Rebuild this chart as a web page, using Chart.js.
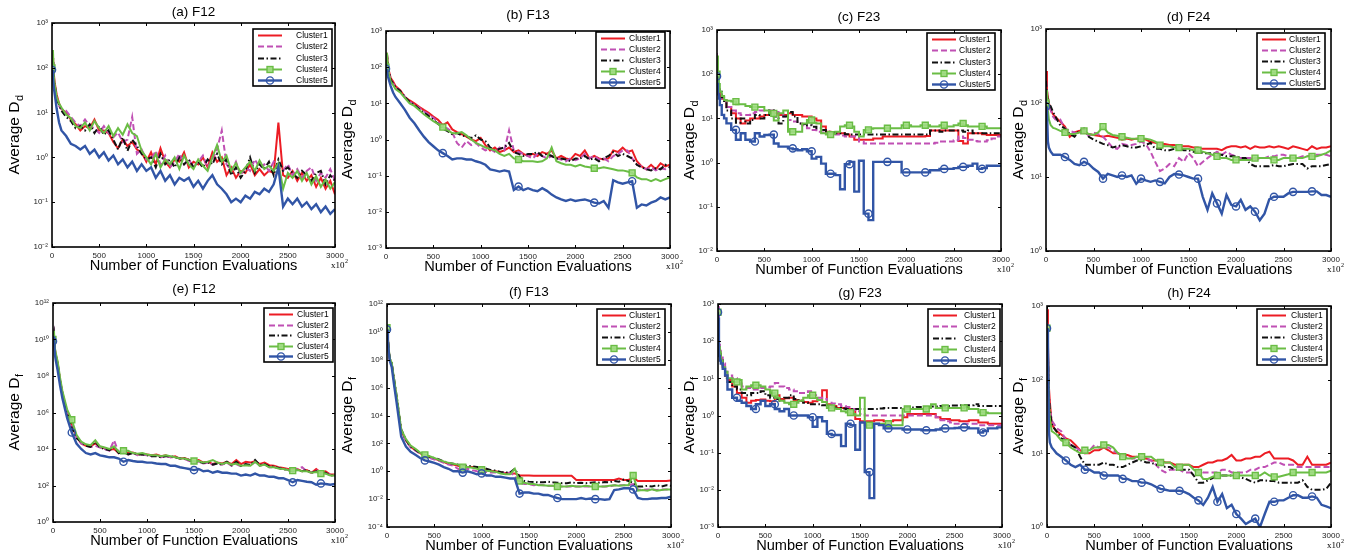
<!DOCTYPE html>
<html><head><meta charset="utf-8">
<script src="https://cdn.jsdelivr.net/npm/chart.js@4.4.0/dist/chart.umd.min.js"></script>
<style>
html,body{margin:0;padding:0;background:#fff;}
body{width:1352px;height:558px;position:relative;overflow:hidden;}
canvas{position:absolute;}
</style></head><body>
<script>
// ---------- shared x positions (function evaluations, x10^2) ----------
const X = [0,10,20,30,50,75,100,
150,200,250,300,350,400,450,500,
550,600,650,700,750,800,850,900,950,1000,
1050,1100,1150,1200,1250,1300,1350,1400,1450,1500,
1550,1600,1650,1700,1750,1800,1850,1900,1950,2000,
2050,2100,2150,2200,2250,2300,2350,2400,2450,2500,
2550,2600,2650,2700,2750,2800,2850,2900,2950,3000];
const X_TICK_LABELS = ['0','500','1000','1500','2000','2500','3000'];
const NAMES = ['Cluster1','Cluster2','Cluster3','Cluster4','Cluster5'];

// ---------- (a) F12, Average Dd ----------
const A_C1 = [100,180,70,45,25,16,12,
10,7,5.5,4,5,4.5,7,4,
4,3.5,2.2,1.6,2.5,1.8,2.2,1.5,1.3,0.8,
1.3,0.7,1.6,0.8,0.6,0.9,0.8,1.3,0.6,0.8,
0.7,1.0,0.6,1.3,0.8,1.0,0.4,0.6,0.35,0.5,
0.45,0.7,0.4,0.55,0.4,0.5,0.45,6.0,0.4,0.35,
0.5,0.3,0.45,0.3,0.4,0.22,0.35,0.2,0.3,0.15];
const A_C2 = [100,150,50,35,20,14,12,
11,8,6,5,7,5,4.5,3.5,
5,3.5,2.8,3.6,2.2,2.5,8,1.2,1.5,0.9,
0.9,1.4,0.7,1.1,0.6,0.8,1.2,0.7,0.9,0.6,
0.8,1.1,0.6,0.9,1.5,4.0,0.7,0.5,0.8,0.4,
0.6,0.5,0.9,0.6,0.7,0.5,0.8,0.6,0.5,0.7,
0.4,0.55,0.35,0.5,0.6,0.3,0.45,0.35,0.55,0.3];
const A_C3 = [100,220,55,40,20,15,11,
8,6.5,4.5,5,4,5.5,3.5,5,
3.2,4,2.5,1.5,2.8,1.4,2.5,1.8,1.2,0.9,
1.0,0.6,1.2,0.7,0.9,0.6,1.0,0.7,0.9,0.6,
0.8,0.6,0.9,0.7,1.2,0.7,0.9,0.4,0.6,0.35,
0.5,1.0,0.45,0.7,0.55,0.8,0.4,0.9,0.5,0.6,
0.45,0.35,0.5,0.4,0.3,0.45,0.5,0.25,0.4,0.3];
const A_C4 = [100,250,60,40,22,16,13,
9,7.5,5,4.5,6,4,6.5,4.5,
3.5,5,3,4.5,3.2,5.5,3.5,3,1.4,1.0,
0.7,1.2,0.6,0.9,0.7,1.0,0.55,1.1,0.7,0.55,
0.9,0.65,0.5,1.0,1.9,0.8,1.1,0.5,0.75,0.45,
0.6,0.8,0.5,0.85,0.55,0.65,0.5,0.75,0.2,0.45,
0.35,0.5,0.3,0.45,0.25,0.38,0.22,0.32,0.2,0.28];
const A_C5 = [90,60,35,25,12,6,4,
3,2,1.8,1.5,1.8,1.2,1.5,1.0,
1.3,0.85,1.1,0.7,0.9,0.6,0.8,0.5,0.7,0.5,
0.6,0.35,0.5,0.3,0.4,0.25,0.35,0.3,0.35,0.22,
0.3,0.2,0.3,0.4,0.25,0.2,0.15,0.1,0.12,0.1,
0.14,0.12,0.17,0.15,0.2,0.17,0.25,0.6,0.08,0.12,
0.09,0.12,0.08,0.1,0.07,0.09,0.06,0.08,0.055,0.07];

// ---------- (b) F13, Average Dd ----------
const B_C1 = [100,250,120,80,50,40,30,
23,15,12,10,8,6.6,5.5,4.3,
3.5,2.5,3.0,1.9,1.6,1.4,1.2,1.0,0.9,1.1,
0.7,0.5,0.6,0.45,0.5,0.6,0.45,0.5,0.4,0.35,
0.4,0.35,0.45,0.4,0.5,0.3,0.35,0.3,0.28,0.4,
0.35,0.5,0.3,0.35,0.3,0.28,0.3,0.5,0.45,0.6,
0.45,0.5,0.25,0.18,0.15,0.2,0.15,0.22,0.18,0.2];
const B_C2 = [100,200,110,70,45,35,28,
22,15,11,9,7.5,6,5,4,
3,2.3,2,1.6,0.8,0.6,0.9,0.7,0.8,0.6,
0.5,0.55,0.45,0.6,0.5,1.8,0.5,0.45,0.4,0.35,
0.3,0.4,0.35,0.3,0.35,0.3,0.28,0.25,0.3,0.27,
0.3,0.4,0.3,0.35,0.28,0.3,0.25,0.35,0.4,0.5,
0.5,0.3,0.2,0.18,0.15,0.17,0.14,0.16,0.15,0.17];
const B_C3 = [100,230,110,75,45,35,28,
22,15,11,9,7,5.5,4.5,3.5,
2.7,2.0,1.7,1.4,1.5,1.3,1.2,1.1,1.3,1.0,
0.9,0.6,0.5,0.55,0.6,0.8,0.45,0.4,0.35,0.4,
0.4,0.45,0.35,0.4,0.35,0.3,0.3,0.28,0.25,0.3,
0.3,0.35,0.28,0.3,0.25,0.3,0.35,0.45,0.35,0.4,
0.35,0.3,0.2,0.17,0.15,0.14,0.16,0.15,0.2,0.17];
const B_C4 = [100,250,100,65,40,32,25,
20,14,10,8.5,6.5,5,4,3.2,
2.7,2.2,1.8,1.5,1.5,1.6,1.3,1.0,0.8,0.7,
0.6,0.55,0.5,0.4,0.35,0.4,0.3,0.28,0.25,0.25,
0.25,0.24,0.25,0.3,0.6,0.25,0.22,0.2,0.2,0.18,
0.2,0.18,0.17,0.16,0.16,0.17,0.16,0.15,0.14,0.14,
0.13,0.12,0.09,0.08,0.08,0.07,0.08,0.07,0.08,0.09];
const B_C5 = [90,80,55,45,30,20,15,
10,6.6,4,2.8,1.8,1.2,0.85,0.65,
0.5,0.42,0.35,0.28,0.3,0.3,0.28,0.28,0.25,0.23,
0.2,0.15,0.14,0.13,0.14,0.13,0.04,0.05,0.04,0.045,
0.04,0.037,0.045,0.038,0.03,0.025,0.022,0.02,0.022,0.02,
0.021,0.022,0.02,0.018,0.017,0.02,0.013,0.075,0.065,0.06,
0.065,0.07,0.013,0.016,0.015,0.018,0.02,0.025,0.022,0.025];

// ---------- (c) F23, Average Dd ----------
const C_C1 = [100,70,50,40,30,28,26,
18,13,10,7.7,9,10,10,11,
12,14,13,12,12,13,12,12,11,11,
10,9,6.6,5,4.8,4.6,4.6,4.3,3.9,3.3,
3.3,3.3,3.3,3.5,3.5,3.9,3.9,3.9,3.9,3.9,
3.9,3.9,3.9,3.9,4.0,5.3,5.3,5.3,5.3,5.3,
5.3,3.1,2.7,4.6,4.6,4.6,4.4,4.2,4.2,4.2];
const C_C2 = [300,100,60,45,35,28,25,
18,15,13,12,12,13,14,15,
15,15,14,13,11,9.2,8.5,7.7,7,6,
5.5,5,4.8,4.6,4.4,4.3,4.1,3.9,3.9,3.9,
3.0,2.7,2.7,2.7,2.7,2.7,2.7,2.7,2.7,2.7,
2.7,2.7,2.7,2.7,2.7,2.7,2.8,3.0,3.0,3.0,
3.2,3.9,3.6,3.3,3.1,3.0,3.0,3.2,3.5,3.9];
const C_C3 = [100,80,60,45,40,30,22,
15,10,8,10,7.7,9.2,12,10,
12,15,11,7.7,11,14,11,7.7,7.5,7,
6.5,6,5.5,5,4.8,4.6,4.6,4.4,4.3,4.3,
4.3,4.3,4.3,4.3,4.3,4.3,4.3,4.3,4.3,4.3,
4.3,4.3,4.3,4.3,4.3,5.3,5.3,5.0,5.3,5.3,
5.3,5.3,5.0,5.3,4.6,4.6,4.6,4.6,4.6,4.6];
const C_C4 = [100,250,90,60,40,32,26,
25,24,21,21,19,18,18,18,
15,13,9,13,15,5,5,5,7.7,9.2,
8,7.7,4.6,4.3,4.5,5,6.6,7,6.6,5,
3.9,5.5,5.8,6,6,6,6,6,6,7,
7,6.6,6.6,7,7,6.6,6.6,7,6.6,6.6,
7,7.7,7,6.6,6.6,6.6,6.6,6.0,6.0,6.0];
const C_C5 = [90,60,35,28,20,12,10,
7.7,5.5,3.3,4.6,3.3,3.0,4.6,3.9,
4.2,4.3,2.7,2.3,2.3,2.1,2.0,1.9,2.0,1.8,
1.23,1.35,0.95,0.56,0.56,0.52,0.25,0.92,1.04,0.22,
1.1,0.07,0.05,1.04,1.04,1.04,1.04,1.04,1.04,0.6,
0.6,0.6,0.6,0.6,0.6,0.67,0.67,0.72,0.72,0.72,
0.75,0.8,0.8,0.85,0.95,0.72,0.75,0.85,0.85,0.85];

// ---------- (d) F24, Average Dd ----------
const D_C1 = [270,150,120,100,80,70,65,
56,48,35,40,42,40,38,37,
36,35,36,35,34,32,33,32,33,33,
32,30,29,28,28,27,27,26,26,26,
25,25,24,24,24,24,23,25,26,26,
25,26,24,26,25,25,26,25,26,25,
24,26,25,24,23,26,24,25,25,26];
const D_C2 = [200,150,100,90,80,65,60,
60,45,42,40,38,42,36,40,
38,35,30,25,24,28,27,27,28,30,
28,22,16,12,13,15,14,18,16,21,
18,14,16,18,20,22,20,22,20,19,
18,18,18,17,18,18,19,19,20,20,
19,18,18,19,19,20,20,20,20,19];
const D_C3 = [200,130,110,100,90,75,65,
50,45,38,35,42,45,35,32,
30,28,27,25,26,27,26,25,25,26,
27,29,24,24,23,23,24,24,23,23,
22,22,21,21,21,20,20,19,19,19,
18,18,15,14,14,14,14,14.5,14,14,
14.5,15,15,15,13,14,14,14,14.5,15];
const D_C4 = [100,150,80,60,50,46,45,
42,40,38,38,40,42,38,37,
40,48,40,37,36,35,34,33,33,33,
33,32,30,27,26,26,25,25,24,24,
23,23,22,21,20,19,18,18,17,17,
17,17,17,18,18,18,18,17,17,18,
18,18,18,18,19,19,19,20,21,23];
const D_C5 = [90,80,30,25,22,20,20,
20,18.6,17,15,14.4,16,15,13,
11.7,9.5,11,10.5,10,10.5,10,10.5,8.1,9.5,
9,8.6,9,8.6,8.2,10,11,10.8,10.5,10,
9.5,9.5,5.4,3.6,6,4.4,3.2,5.7,4.2,4,
4.9,3.6,4.0,3.4,2.6,3.2,5.0,5.4,5.4,5.4,
6,6.3,6.3,6.3,6.3,6.4,6.4,5.7,5.7,5.4];

// ---------- (e) F12, Average Df ----------
const E_C1 = [1e10,2e10,3e9,1.5e9,5e8,6e7,1.2e7,
1e6,2e5,5e4,2e4,1.5e4,1.4e4,2e4,1.3e4,
1.1e4,9e3,1e4,6e3,7e3,6e3,6.5e3,5e3,5.5e3,5e3,
4.5e3,5e3,4e3,4.5e3,3.5e3,4e3,3e3,3.2e3,2.5e3,2.2e3,
2.5e3,1.8e3,2e3,1.5e3,1.8e3,1.6e3,2e3,1.5e3,2.5e3,1.5e3,
2e3,1.8e3,2.2e3,1.5e3,1.8e3,1.3e3,1.2e3,1e3,9e2,8e2,
7e2,8e2,6e2,7e2,5e2,8e2,5e2,6e2,4e2,4e2];
const E_C2 = [1e10,2e10,2.5e9,1.2e9,4e8,5e7,1e7,
8e5,2e5,4e4,2e4,1.5e4,1.3e4,1.5e4,1.2e4,
1e4,8e3,3e4,6e3,6.5e3,5e3,6e3,4.5e3,5e3,4.5e3,
4e3,4.5e3,3.5e3,4e3,3.5e3,3.5e3,3e3,2.8e3,2.2e3,2e3,
2e3,1.6e3,1.8e3,1.4e3,1.6e3,1.4e3,1.8e3,1.2e3,1.5e3,1.1e3,
1.4e3,1.2e3,2e3,1.2e3,1.5e3,1e3,1e3,9e2,8e2,7e2,
6e2,8e2,1e3,6e2,5e2,7e2,5e2,4.5e2,4e2,3.5e2];
const E_C3 = [1e10,2e10,2.5e9,1.3e9,4.5e8,5.5e7,1.1e7,
9e5,1.5e5,4e4,2.5e4,1.5e4,1.3e4,2.5e4,1.2e4,
1e4,8.5e3,1.2e4,6e3,7e3,5e3,6e3,5e3,5e3,4.5e3,
4e3,4e3,3.5e3,4e3,4e3,3.5e3,3e3,3e3,2.5e3,2e3,
2e3,1.7e3,1.8e3,1.4e3,1.6e3,1.4e3,2e3,1.3e3,2e3,1.2e3,
1.5e3,1.3e3,2.5e3,1.3e3,1.5e3,1.1e3,1.1e3,9e2,8e2,7e2,
6e2,7e2,6e2,7e2,5e2,6e2,4.5e2,5e2,3.5e2,3.5e2];
const E_C4 = [1e10,3e10,3.5e9,1.8e9,6e8,8e7,1.5e7,
1.5e6,4e5,6e4,2.5e4,1.8e4,1.6e4,3e4,1.4e4,
1.2e4,1e4,1.4e4,7e3,8e3,8e3,6e3,5.5e3,6e3,5e3,
4.5e3,4.5e3,4e3,4.5e3,4e3,3.5e3,3e3,3e3,2.5e3,2.2e3,
2.2e3,1.8e3,2e3,2.5e3,1.8e3,1.5e3,1.8e3,1.4e3,1.6e3,1.2e3,
1.3e3,1.2e3,2e3,1.2e3,1.4e3,1e3,1e3,8.5e2,8e2,7e2,
6.5e2,7e2,6e2,6e2,5e2,5.5e2,4.5e2,4.5e2,3.5e2,3.5e2];
const E_C5 = [8e9,1.5e10,1.5e9,7e8,2e8,3e7,6e6,
5e5,8e4,2e4,1e4,6e3,5e3,6e3,4.5e3,
4e3,3.5e3,3.5e3,3e3,2e3,2.5e3,2.2e3,2e3,2e3,1.8e3,
1.8e3,1.6e3,1.5e3,1.5e3,1.2e3,1.2e3,1e3,9e2,8e2,7e2,
8e2,6e2,6.5e2,5e2,6e2,5e2,5e2,4.5e2,4.5e2,3.5e2,
4e2,3.5e2,4.5e2,3.5e2,3.5e2,3e2,3e2,2.5e2,2.5e2,2e2,
1.5e2,2e2,1.8e2,1.6e2,1.5e2,1.1e2,1.3e2,1.2e2,1.1e2,1.2e2];

// ---------- (f) F13, Average Df ----------
const F_C1 = [1.5e10,3e9,4e8,1e8,5e7,3e6,2e5,
800,160,56,33,20,13,10,8,
6,4.5,3.5,3,2.5,2,2,2,1.8,1.5,
1.3,1.1,1,0.8,0.75,0.7,0.7,0.5,0.5,0.5,
0.48,0.48,0.48,0.48,0.48,0.48,0.48,0.48,0.48,0.24,
0.24,0.24,0.24,0.24,0.24,0.24,0.24,0.24,0.3,0.24,
0.24,0.35,0.2,0.2,0.2,0.2,0.2,0.2,0.2,0.22];
const F_C2 = [1.5e10,2e9,3e8,8e7,4e7,2.5e6,1.8e5,
700,150,50,30,18,12,9,7,
5.5,4,3,2.5,1.5,1.2,1.5,1.2,1.0,0.9,
0.9,0.8,0.8,0.8,0.7,0.8,0.5,0.15,0.12,0.12,
0.1,0.11,0.1,0.09,0.09,0.08,0.08,0.08,0.08,0.08,
0.08,0.08,0.08,0.08,0.08,0.08,0.08,0.1,0.1,0.1,
0.1,0.12,0.05,0.045,0.05,0.05,0.045,0.05,0.05,0.05];
const F_C3 = [1.5e10,3e9,5e8,1.2e8,6e7,4e6,3e5,
1000,180,60,35,20,14,11,9,
7,5,4,3.5,3,2.5,2.5,2.2,2,1.8,
1.5,1.2,1.1,0.9,0.8,0.8,1.5,0.4,0.2,0.18,
0.17,0.16,0.16,0.18,0.16,0.15,0.14,0.14,0.16,0.14,
0.15,0.14,0.15,0.16,0.15,0.17,0.16,0.2,0.18,0.25,
0.2,0.15,0.08,0.08,0.09,0.08,0.1,0.08,0.1,0.09];
const F_C4 = [2e10,3e9,5e8,1.2e8,6e7,4e6,3e5,
1000,200,70,40,22,15,12,9,
6.5,5,4,3.5,3,2,2,1.8,1.5,1.3,
1.1,1.0,0.9,0.7,0.6,0.6,1.5,0.2,0.15,0.12,
0.12,0.1,0.1,0.09,0.09,0.08,0.08,0.08,0.09,0.08,
0.08,0.09,0.08,0.08,0.08,0.08,0.09,0.1,0.09,0.1,
0.1,0.5,0.04,0.045,0.04,0.05,0.04,0.045,0.05,0.05];
const F_C5 = [1.5e10,2e9,3e8,8e7,3e7,1.5e6,1e5,
300,60,25,15,9,6,5,4,
3,2,1.5,1.0,1.0,0.8,1.0,0.8,0.6,0.7,
0.5,0.5,0.4,0.4,0.35,0.3,0.3,0.025,0.03,0.03,
0.025,0.025,0.02,0.02,0.015,0.012,0.01,0.01,0.01,0.01,
0.012,0.01,0.011,0.01,0.01,0.009,0.01,0.045,0.05,0.06,
0.06,0.05,0.012,0.01,0.01,0.011,0.011,0.012,0.012,0.015];

// ---------- (g) F23, Average Df ----------
const G_C1 = [500,150,60,40,30,20,12,
9,6,4,3,2.2,2.5,2.6,2.7,
2.5,2.4,3.5,2.8,2.9,3,2.6,2.5,2.3,2.2,
2.4,2.6,4.8,2,1.8,1.6,1.6,1.5,1.5,0.8,
0.7,0.7,0.7,0.75,0.75,0.7,0.7,0.75,0.75,0.9,
1.1,1.1,1.1,1.1,1.1,1.1,0.9,0.8,0.8,0.75,
0.75,0.7,0.7,0.75,0.75,0.65,0.65,0.6,0.6,0.6];
const G_C2 = [700,1000,80,55,40,25,15,
12,10,8,6,5.5,5,5,5.5,
5.8,6,7.5,6,5.5,5,4.5,4,4,4.5,
3.5,3,2.8,2.2,2.1,2.0,1.8,1.7,1.5,1.3,
1.1,1.0,1.0,1.0,1.0,1.0,1.0,1.0,1.0,1.0,
1.0,1.0,1.0,1.0,1.0,1.0,0.9,0.75,0.7,0.65,
0.6,0.6,0.6,0.6,0.6,0.55,0.55,0.55,0.55,0.55];
const G_C3 = [500,120,60,45,30,18,10,
8,6,5,4,3.5,4,4,4.5,
3.5,3,2.8,2.5,3,3.5,2.8,2.5,2.2,2,
2,2,1.9,1.7,1.65,1.6,1.55,1.5,1.5,1.5,
1.5,1.5,1.5,1.5,1.55,1.6,1.6,1.6,1.6,1.6,
1.6,1.65,1.7,1.7,1.7,1.75,1.75,1.8,1.8,1.85,
1.85,1.9,1.9,1.9,2.0,1.8,1.8,1.8,1.8,1.8];
const G_C4 = [600,200,70,50,30,20,15,
10,8,9,5,6,6.5,6.5,6,
5,4,3,2.5,2.2,2,2.2,2.5,3,3.5,
3,2.6,2.3,1.6,1.55,1.5,1.3,1.2,1.1,1.0,
3,0.55,0.6,0.6,0.6,0.6,0.55,0.55,0.55,1.5,
1.5,1.5,1.5,1.5,1.6,2.0,1.6,1.6,1.6,1.6,
1.6,1.6,1.7,1.5,1.5,1.2,1.2,1.15,1.15,1.15];
const G_C5 = [600,400,40,30,25,18,12,
5,3,2.5,2.2,1.8,1.5,2.0,2.5,
1.8,2.0,1.5,1.3,1.5,1.0,1.0,1.0,1.0,0.9,
0.5,0.9,0.7,0.32,0.3,0.3,0.15,0.6,0.55,0.12,
0.65,0.03,0.006,0.6,0.55,0.45,0.45,0.45,0.45,0.42,
0.42,0.42,0.42,0.4,0.4,0.4,0.42,0.45,0.45,0.45,
0.46,0.48,0.48,0.45,0.45,0.35,0.38,0.45,0.45,0.48];

// ---------- (h) F24, Average Df ----------
const H_C1 = [900,300,80,50,25,22,20,
18,16,15,13,11,10,10,11,
11,12,11,10,10,9.5,9.5,9,9,8.5,
8.5,8,8,8,7.5,7.5,7,7,7,7,
6.5,6.5,7,7.5,7.5,8,8,8.5,9.5,8,
8,8.5,8.5,9,9,10,10.5,8.5,8.5,8.5,
8.5,8,7,7,9,7,7,7,7,7.5];
const H_C2 = [600,250,60,40,28,25,22,
20,15,13,12,11,10,11,13,
12,12,12,11,10,9,9,8.5,8.5,8.5,
8.5,8,7,6,5.5,6,6,6,5.5,5.5,
5.5,6,5.5,5.5,5.5,5.5,6,6,5.5,5.5,
5.5,5.5,6,6,6.5,6.5,7,7.5,7.5,7,
7,7,6.5,6.5,6.5,6.5,6.5,6.5,6.5,6.5];
const H_C3 = [500,200,60,40,25,22,20,
16,15,13,12,9,7,7,7,
7,7.5,7,7,6.5,6.5,7,7.5,8,8,
7.5,7.5,7,7,6.5,6.5,6,6,6,6,
5,4,4,4.3,4.6,5,5,5,5,5,
4.7,4.5,4.2,4,4.3,4.3,4.2,4.2,4,4,
4,4,4,4.3,3.5,3.2,3.2,3.2,3.3,4];
const H_C4 = [500,250,50,30,20,19,18,
15,14,12,11,10,11,11,12,
12,13,13,12,10,9,8.5,8.5,9,9,
9,9,8,7.5,7.5,7.5,6.5,6.5,7,7,
6,5.5,4.5,4.5,4.8,5,5,5,5,5,
5,5,5,5,5,5.5,5,4.8,4.8,5,
5.2,5.5,5.5,5.5,5.5,5.5,5.5,5.5,5.5,5.8];
const H_C5 = [500,350,20,14,12,11,10,
9,8,7,6.5,7,6,6,5.5,
5.5,5,5,5,5,4.5,4.5,4.2,4.2,4,
4,3.8,3.5,3.3,3.2,3.1,3.1,3.1,3.0,2.8,
2.5,2.3,2.0,2.5,3.5,2.2,2.8,1.8,2.0,1.5,
1.3,1.1,1.2,1.3,1.0,1.5,2.2,2.2,2.3,2.3,
2.5,2.7,2.7,2.5,2.5,2.6,2.5,2.0,1.9,1.8];

// ---------- y tick exponents (labels 10^n) ----------
const YT_A = [-2,-1,0,1,2,3];
const YT_B = [-3,-2,-1,0,1,2,3];
const YT_C = [-2,-1,0,1,2,3];
const YT_D = [0,1,2,3];
const YT_E = [0,2,4,6,8,10,12];
const YT_F = [-4,-2,0,2,4,6,8,10,12];
const YT_G = [-3,-2,-1,0,1,2,3];
const YT_H = [0,1,2,3];

// ---------- marker x positions ----------
const MK_A = [0];
const MK_B = [0,600,1400,2200,2600];
const MK_C = [0,200,400,600,800,1000,1200,1400,1600,1800,2000,2200,2400,2600,2800];
const MK_D = MK_C;
const MK_E = [0,200,750,1500,2550,2850];
const MK_F = [0,400,800,1000,1400,1800,2200,2600];
const MK_G = MK_C;
const MK_H = MK_C;

// ---------- styles ----------
const FONT = '"Liberation Sans", Arial, Helvetica, sans-serif';
const STYLES = [
  {color:'#ec1c24', width:2.0, dash:[]},
  {color:'#c050b4', width:2.0, dash:[6,3]},
  {color:'#111111', width:2.0, dash:[6,2.5,1.5,2.5]},
  {color:'#6abd45', width:2.0, dash:[], marker:'rect', r:4.2},
  {color:'#3155a6', width:2.4, dash:[], marker:'circle', r:3.6}
];
const SUP = {'-':'\u207B','0':'\u2070','1':'\u00B9','2':'\u00B2','3':'\u00B3','4':'\u2074','5':'\u2075','6':'\u2076','7':'\u2077','8':'\u2078','9':'\u2079'};
const sup = n => String(n).split('').map(c=>SUP[c]).join('');

const PANELS = [
  {title:'(a) F12', sub:'d', data:[A_C1,A_C2,A_C3,A_C4,A_C5], yt:YT_A, mk:MK_A, area:[52,23,335,247], titleY:12, ylabX:15, legend:[253,29,332,86], stepped:false},
  {title:'(b) F13', sub:'d', data:[B_C1,B_C2,B_C3,B_C4,B_C5], yt:YT_B, mk:MK_B, area:[386,31,670,248], titleY:15, ylabX:348, legend:[596,32,665,88], stepped:false},
  {title:'(c) F23', sub:'d', data:[C_C1,C_C2,C_C3,C_C4,C_C5], yt:YT_C, mk:MK_C, area:[717,30,1001,251], titleY:17, ylabX:690, legend:[927,33,995,90], stepped:true},
  {title:'(d) F24', sub:'d', data:[D_C1,D_C2,D_C3,D_C4,D_C5], yt:YT_D, mk:MK_D, area:[1046,29,1331,251], titleY:17, ylabX:1019, legend:[1257,33,1325,89], stepped:false},
  {title:'(e) F12', sub:'f', data:[E_C1,E_C2,E_C3,E_C4,E_C5], yt:YT_E, mk:MK_E, area:[53,303,335,522], titleY:289, ylabX:15, legend:[264,308,333,362], stepped:false},
  {title:'(f) F13', sub:'f', data:[F_C1,F_C2,F_C3,F_C4,F_C5], yt:YT_F, mk:MK_F, area:[387,304,671,527], titleY:292, ylabX:348, legend:[597,309,665,365], stepped:false},
  {title:'(g) F23', sub:'f', data:[G_C1,G_C2,G_C3,G_C4,G_C5], yt:YT_G, mk:MK_G, area:[718,304,1002,527], titleY:293, ylabX:690, legend:[928,309,1000,366], stepped:true},
  {title:'(h) F24', sub:'f', data:[H_C1,H_C2,H_C3,H_C4,H_C5], yt:YT_H, mk:MK_H, area:[1047,306,1331,527], titleY:293, ylabX:1019, legend:[1257,309,1327,365], stepped:false}
];

const PAD_L = 52, PAD_T = 23, PAD_R = 18, PAD_B = 30;

function seg(ctx,x1,y1,x2,y2){ctx.beginPath();ctx.moveTo(x1,y1);ctx.lineTo(x2,y2);ctx.stroke();}

function drawMarker(ctx, s, x, y){
  ctx.save();
  ctx.strokeStyle = s.color; ctx.lineWidth = 1.4; ctx.setLineDash([]);
  if (s.marker === 'rect'){
    const h = s.r*Math.SQRT1_2;
    ctx.fillStyle = 'rgba(160,220,130,0.9)';
    ctx.fillRect(x-h,y-h,2*h,2*h);
    ctx.strokeRect(x-h,y-h,2*h,2*h);
  } else {
    ctx.beginPath(); ctx.arc(x,y,s.r,0,Math.PI*2); ctx.stroke();
  }
  ctx.restore();
}

const deco = {
  id:'deco',
  afterDatasetsDraw(chart){
    const p = chart.$panel, ctx = chart.ctx, a = chart.chartArea;
    const ox = chart.$ox, oy = chart.$oy;
    ctx.save();
    // frame
    ctx.strokeStyle = '#000'; ctx.lineWidth = 1.6; ctx.setLineDash([]);
    ctx.strokeRect(a.left, a.top, a.right-a.left, a.bottom-a.top);
    // inward tick marks
    ctx.lineWidth = 1;
    const xs = chart.scales.x, ys = chart.scales.y;
    xs.ticks.forEach(t=>{const px=Math.round(xs.getPixelForValue(t.value))+0.5; seg(ctx,px,a.bottom,px,a.bottom-3); seg(ctx,px,a.top,px,a.top+3);});
    ys.ticks.forEach(t=>{const py=Math.round(ys.getPixelForValue(t.value))+0.5; seg(ctx,a.left,py,a.left+3,py); seg(ctx,a.right,py,a.right-3,py);});
    // legend
    const L = p.legend[0]-ox, T = p.legend[1]-oy, R = p.legend[2]-ox, B = p.legend[3]-oy;
    ctx.fillStyle = '#fff'; ctx.fillRect(L,T,R-L,B-T);
    ctx.strokeStyle = '#000'; ctx.lineWidth = 1.6; ctx.strokeRect(L,T,R-L,B-T);
    const step = (B-T-12)/4;
    STYLES.forEach((s,i)=>{
      const y = Math.round(T+6+i*step)+0.5;
      ctx.strokeStyle = s.color; ctx.lineWidth = s.width; ctx.setLineDash(s.dash);
      seg(ctx, L+5, y, L+29, y);
      ctx.setLineDash([]);
      if (s.marker) drawMarker(ctx, s, L+17, y);
      ctx.fillStyle = '#000'; ctx.font = '8.5px '+FONT; ctx.textBaseline = 'middle'; ctx.textAlign = 'left';
      ctx.fillText(NAMES[i], R-36, y);
    });
    ctx.restore();
  },
  afterDraw(chart){
    const p = chart.$panel, ctx = chart.ctx, a = chart.chartArea;
    const ox = chart.$ox, oy = chart.$oy;
    ctx.save();
    ctx.fillStyle = '#000';
    // panel title
    ctx.font = '13.5px '+FONT; ctx.textAlign = 'center'; ctx.textBaseline = 'middle';
    ctx.fillText(p.title, (a.left+a.right)/2, p.titleY-oy);
    // x10^2 multiplier
    ctx.font = '9px "Liberation Serif", "Times New Roman", serif'; ctx.textAlign = 'left'; ctx.textBaseline = 'middle';
    const mx = a.right-4, my = a.bottom+19;
    ctx.fillText('x10', mx, my);
    const w = ctx.measureText('x10').width;
    ctx.font = '6px "Liberation Serif", "Times New Roman", serif';
    ctx.fillText('2', mx+w+0.5, my-5);
    // y axis label with subscript
    ctx.translate(p.ylabX-ox, (a.top+a.bottom)/2);
    ctx.rotate(-Math.PI/2);
    ctx.font = '15.5px '+FONT;
    const w1 = ctx.measureText('Average D').width;
    ctx.font = '11px '+FONT;
    const w2 = ctx.measureText(p.sub).width;
    const x0 = -(w1+w2)/2;
    ctx.textAlign = 'left'; ctx.textBaseline = 'middle';
    ctx.font = '15.5px '+FONT;
    ctx.fillText('Average D', x0, 0);
    ctx.font = '11px '+FONT;
    ctx.fillText(p.sub, x0+w1+0.5, 5);
    ctx.restore();
  }
};

function makeChart(p){
  const [L,T,R,B] = p.area;
  const ox = L-PAD_L, oy = T-PAD_T;
  const W = R-L+PAD_L+PAD_R, H = B-T+PAD_T+PAD_B;
  const cv = document.createElement('canvas');
  cv.width = W; cv.height = H;
  cv.style.left = ox+'px'; cv.style.top = oy+'px';
  cv.style.width = W+'px'; cv.style.height = H+'px';
  document.body.appendChild(cv);
  const datasets = STYLES.map((s,i)=>({
    label: NAMES[i],
    data: X.map((x,j)=>({x:x, y:p.data[i][j]})),
    borderColor: s.color, borderWidth: s.width, borderDash: s.dash,
    pointStyle: s.marker || 'circle',
    pointRadius: c => (s.marker && c.raw && p.mk.includes(c.raw.x)) ? s.r : 0,
    pointHoverRadius: 0,
    pointBorderColor: s.color,
    pointBackgroundColor: s.marker==='rect' ? 'rgba(160,220,130,0.9)' : 'rgba(0,0,0,0)',
    pointBorderWidth: 1.4,
    fill:false, tension:0, stepped: p.stepped ? 'after' : false,
    order: 4-i
  }));
  const ch = new Chart(cv, {
    type:'line',
    data:{datasets},
    options:{
      responsive:false, animation:false, devicePixelRatio:1,
      events:[],
      layout:{padding:{left:0, top:PAD_T, right:PAD_R, bottom:0}},
      plugins:{legend:{display:false}, tooltip:{enabled:false}, title:{display:false}},
      scales:{
        x:{type:'linear', min:0, max:3000,
           grid:{display:false, drawTicks:false}, border:{display:false},
           afterBuildTicks: s => { s.ticks = X_TICK_LABELS.map(t=>({value:Number(t)})); },
           ticks:{autoSkip:false, maxRotation:0, padding:4, color:'#222', font:{size:8, family:FONT},
                  callback:(v,i)=>X_TICK_LABELS[i]},
           title:{display:true, text:'Number of Function Evaluations', color:'#000',
                  font:{size:14.6, family:FONT}, padding:{top:0, bottom:2}},
           afterFit: s => { s.height = PAD_B; s.paddingLeft = 0; s.paddingRight = 0; }},
        y:{type:'logarithmic', min:Math.pow(10,p.yt[0]), max:Math.pow(10,p.yt[p.yt.length-1]),
           grid:{display:false, drawTicks:false}, border:{display:false},
           afterBuildTicks: s => { s.ticks = p.yt.map(e=>({value:Math.pow(10,e)})); },
           ticks:{autoSkip:false, padding:4, color:'#222', font:{size:8, family:FONT},
                  callback:(v,i)=>'10'+sup(p.yt[i])},
           afterFit: s => { s.width = PAD_L; s.paddingTop = 0; s.paddingBottom = 0; }}
      }
    },
    plugins:[{id:'setup', beforeInit(c){ c.$panel = p; c.$ox = ox; c.$oy = oy; }}, deco]
  });
  return ch;
}

PANELS.forEach(makeChart);
</script>
</body></html>
